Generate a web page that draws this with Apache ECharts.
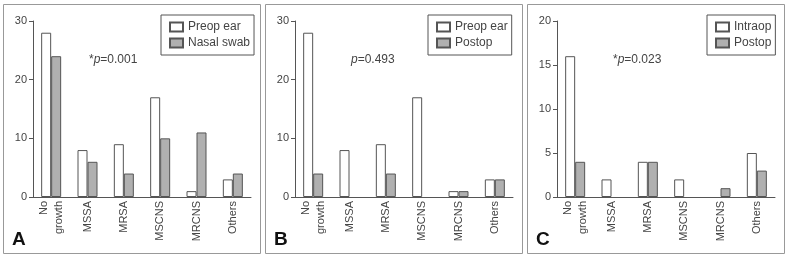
<!DOCTYPE html>
<html>
<head>
<meta charset="utf-8">
<script src="https://cdn.jsdelivr.net/npm/echarts@6/dist/echarts.min.js"></script>
<style>
  html, body { margin: 0; padding: 0; background: #fff; }
  #chart { width: 788px; height: 259px; }
</style>
</head>
<body>
<div id="chart"></div>
<script>
// categories shared by the three panels
let categories = ['No\ngrowth', 'MSSA', 'MRSA', 'MSCNS', 'MRCNS', 'Others'];

// panel A
let aPreop = [28, 8, 9, 17, 1, 3];
let aNasal = [24, 6, 4, 10, 11, 4];
// panel B
let bPreop = [28, 8, 9, 17, 1, 3];
let bPostop = [4, 0, 4, 0, 1, 3];
// panel C
let cIntraop = [16, 2, 4, 2, 0, 5];
let cPostop = [4, 0, 4, 0, 1, 3];

let yMax = [30, 30, 20];
let yStep = [10, 10, 5];
let pTexts = [['*', '0.001'], ['', '0.493'], ['*', '0.023']];
let letters = ['A', 'B', 'C'];

let font = 'Liberation Sans';
let ink = '#444';
let panelX = [0, 262, 524];

let chart = echarts.init(document.getElementById('chart'));

let grids = [], xAxes = [], yAxes = [], series = [], legends = [], graphics = [];

let barStyle = function (fill) {
  return { color: fill, borderColor: '#555', borderWidth: 1 };
};

// zero counts draw no bar at all in the original
let noZero = function (arr) {
  return arr.map(function (v) { return v === 0 ? '-' : v; });
};

panelX.forEach(function (ox, i) {
  grids.push({ left: ox + 33, top: 21, width: 218, height: 176 });
  xAxes.push({
    type: 'category', gridIndex: i, data: categories,
    axisLine: { lineStyle: { color: '#555' } },
    axisTick: { length: 4, lineStyle: { color: '#555' } },
    axisLabel: { rotate: 90, fontFamily: font, fontSize: 11, color: ink, margin: 4, lineHeight: 15 }
  });
  yAxes.push({
    type: 'value', gridIndex: i, min: 0, max: yMax[i], interval: yStep[i],
    splitLine: { show: false },
    axisLine: { show: true, lineStyle: { color: '#555' } },
    axisTick: { show: true, length: 4, lineStyle: { color: '#555' } },
    axisLabel: { fontFamily: font, fontSize: 11, color: ink, margin: 6 }
  });

  graphics.push({
    type: 'rect', shape: { x: ox + 3.5, y: 4.5, width: 257, height: 249 },
    style: { fill: 'none', stroke: '#999', lineWidth: 1 }
  });
  graphics.push({
    type: 'text', left: ox + 89, top: 54,
    style: {
      text: pTexts[i][0] + '{i|p}=' + pTexts[i][1],
      fontFamily: font, fontSize: 12, fill: ink,
      rich: { i: { fontStyle: 'italic', fontFamily: font, fontSize: 12, fill: ink } }
    }
  });
  graphics.push({
    type: 'text', left: ox + 12, top: 230,
    style: { text: letters[i], fontFamily: font, fontSize: 19, fontWeight: 'bold', fill: '#111' }
  });
});

let addPair = function (gi, names, whiteData, greyData) {
  series.push({
    name: names[0], type: 'bar', xAxisIndex: gi, yAxisIndex: gi, data: noZero(whiteData),
    barWidth: 10, barGap: '0%', itemStyle: barStyle('#ffffff')
  });
  series.push({
    name: names[1], type: 'bar', xAxisIndex: gi, yAxisIndex: gi, data: noZero(greyData),
    barWidth: 10, barGap: '0%', itemStyle: barStyle('#b0b0b0')
  });
};

addPair(0, ['Preop ear', 'Nasal swab'], aPreop, aNasal);
addPair(1, ['Preop ear', 'Postop'], bPreop, bPostop);
addPair(2, ['Intraop', 'Postop'], cIntraop, cPostop);

let legendLeft = [161, 428, 707];
let legendData = [['Preop ear', 'Nasal swab'], ['Preop ear', 'Postop'], ['Intraop', 'Postop']];
legendLeft.forEach(function (lx, i) {
  legends.push({
    left: lx, top: 15, orient: 'vertical', data: legendData[i],
    icon: 'rect', itemWidth: 13, itemHeight: 9, itemGap: 4,
    borderColor: '#555', borderWidth: 1, padding: [6, 4, 6, 8],
    selectedMode: false,
    textStyle: { fontFamily: font, fontSize: 12, lineHeight: 12, color: ink }
  });
});

let option = {
  animation: false,
  grid: grids,
  xAxis: xAxes,
  yAxis: yAxes,
  legend: legends,
  series: series,
  graphic: graphics
};

chart.setOption(option);
</script>
</body>
</html>
